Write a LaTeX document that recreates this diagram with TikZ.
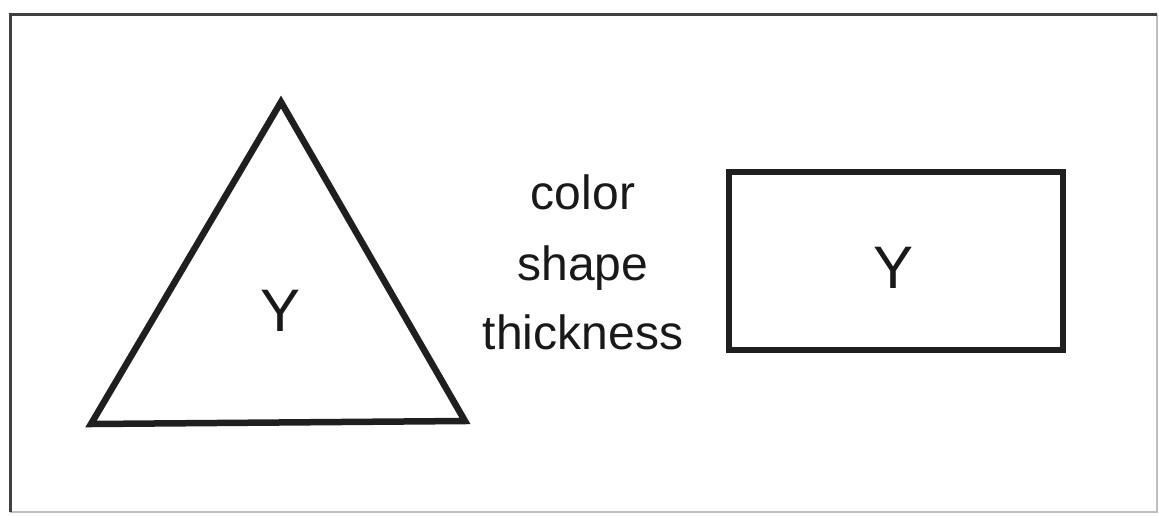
\documentclass[tikz,border=0pt]{standalone}
\usepackage{fontspec}
\setmainfont{Liberation Sans}
\begin{document}
\begin{tikzpicture}[x=1pt,y=-1pt,
  shapeline/.style={line width=6.5pt, draw=black!88, line join=miter},
  framedark/.style={line width=3pt, draw=black!75},
  framelight/.style={line width=2pt, draw=black!25},
  wordtxt/.style={anchor=base, inner sep=0pt, font=\fontsize{48}{48}\selectfont, text=black!90},
  ytxt/.style={anchor=base, inner sep=0pt, font=\fontsize{60}{60}\selectfont, text=black!90}]
\useasboundingbox (0,0) rectangle (1159,515);
\fill[white] (0,0) rectangle (1159,515);
% frame
\coordinate (tl) at (10,14);
\coordinate (tr) at (1157,14);
\coordinate (bl) at (10,512);
\coordinate (br) at (1157,512);
\draw[framelight] (tr) -- (br) -- (bl);
\draw[framedark] (bl) -- (tl) -- (tr);
% triangle
\coordinate (ta) at (281,102);
\coordinate (tb) at (91,424);
\coordinate (tc) at (465,421);
\draw[shapeline] (ta) -- (tb) -- (tc) -- cycle;
\node[ytxt] (y1) at (281,331) {Y};
% rectangle
\coordinate (r1) at (729,172);
\coordinate (r2) at (1063,350);
\draw[shapeline] (r1) rectangle (r2);
\node[ytxt] (y2) at (893,288) {Y};
% words
\node[wordtxt] (w1) at (583,209) {color};
\node[wordtxt] (w2) at (583,280) {shape};
\node[wordtxt] (w3) at (583,349) {thickness};
\end{tikzpicture}
\end{document}
